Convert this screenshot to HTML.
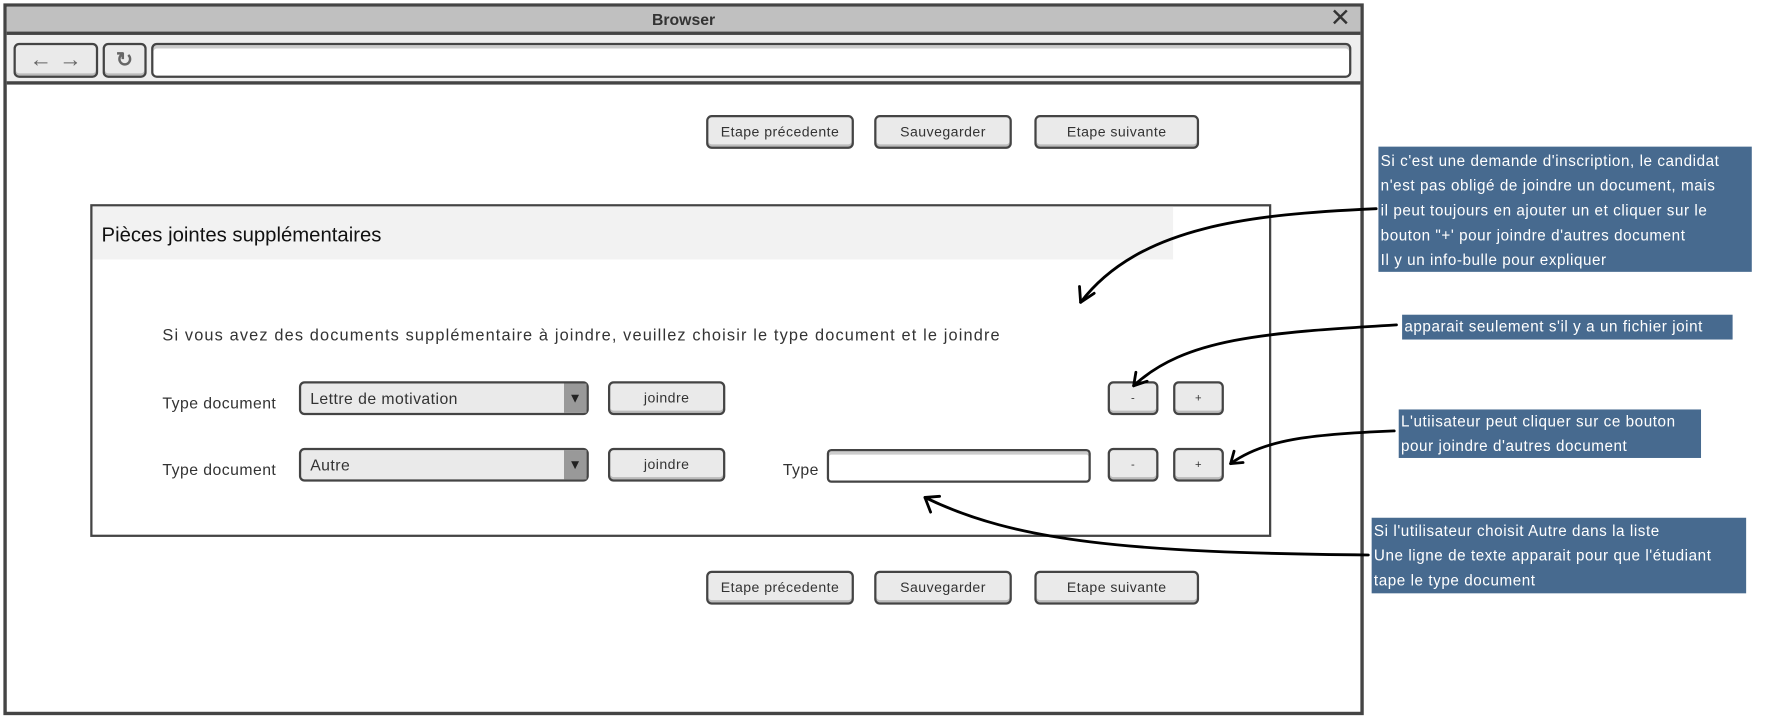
<!DOCTYPE html>
<html><head><meta charset="utf-8">
<style>
*{box-sizing:border-box;margin:0;padding:0}
html,body{width:1769px;height:720px;overflow:hidden;background:#fff}
#w{position:absolute;left:0;top:0;width:1566px;height:638px;transform:scale(1.128);transform-origin:0 0;font-family:"Liberation Sans",sans-serif;color:#333}
.a{position:absolute}
.btn{position:absolute;border:2px solid #444;border-radius:5px;background:#eaeaea;font-size:12.5px;display:flex;align-items:center;justify-content:center;box-shadow:inset 0 -2px 0 #bbb;letter-spacing:0.4px}
.note{position:absolute;background:#476a8f;color:#fff;font-size:13.5px;line-height:22px;padding-left:2px;white-space:nowrap;overflow:hidden;letter-spacing:0.5px}
.lbl{position:absolute;font-size:14px;color:#333;letter-spacing:0.4px}
.sel{position:absolute;border:2px solid #444;border-radius:5px;background:#eaeaea;font-size:14px;padding-left:8px;display:flex;align-items:center;letter-spacing:0.4px}
.sel .ar{position:absolute;right:0;top:0;bottom:0;width:20px;background:#999;color:#222;font-size:12px;display:flex;align-items:center;justify-content:center}
</style></head><body><div id="w">
<div class="a" style="left:3px;top:3px;width:1206px;height:631px;border:3px solid #444"></div>
<div class="a" style="left:6px;top:6px;width:1200px;height:22px;background:#c0c0c0"></div>
<div class="a" style="left:6px;top:9px;width:1200px;text-align:center;font-size:14px;font-weight:bold;color:#333">Browser</div>
<div class="a" style="left:1179px;top:3px;font-size:22px;color:#333">✕</div>
<div class="a" style="left:6px;top:28px;width:1200px;height:3px;background:#444"></div>
<div class="a" style="left:6px;top:31px;width:1200px;height:41px;background:#eee"></div>
<div class="a" style="left:6px;top:72px;width:1200px;height:3px;background:#444"></div>
<div class="btn" style="left:12px;top:38px;width:75px;height:31px;font-size:20px;color:#666">←&nbsp;→</div>
<div class="btn" style="left:91px;top:38px;width:39px;height:31px;font-size:18px;color:#666;font-weight:bold">↻</div>
<div class="a" style="left:134px;top:38px;width:1064px;height:31px;border:2px solid #444;border-radius:5px;background:#fff;box-shadow:inset 0 3px 0 #ccc"></div>

<div class="btn" style="left:626px;top:102px;width:131px;height:30px">Etape précedente</div>
<div class="btn" style="left:775px;top:102px;width:122px;height:30px">Sauvegarder</div>
<div class="btn" style="left:917px;top:102px;width:146px;height:30px">Etape suivante</div>

<div class="a" style="left:80px;top:181px;width:1047px;height:295px;border:2px solid #444"></div>
<div class="a" style="left:82px;top:183px;width:958px;height:47px;background:#f2f2f2"></div>
<div class="a" style="left:90px;top:198px;font-size:18px;color:#111">Pièces jointes supplémentaires</div>
<div class="lbl" style="left:144px;top:290px;font-size:14.5px;letter-spacing:1px">Si vous avez des documents supplémentaire à joindre, veuillez choisir le type document et le joindre</div>

<div class="lbl" style="left:144px;top:349px">Type document</div>
<div class="sel" style="left:265px;top:338px;width:257px;height:30px">Lettre de motivation<span class="ar">▼</span></div>
<div class="btn" style="left:539px;top:338px;width:104px;height:30px">joindre</div>
<div class="btn" style="left:982px;top:338px;width:45px;height:30px;font-size:10px">-</div>
<div class="btn" style="left:1040px;top:338px;width:45px;height:30px;font-size:10px">+</div>

<div class="lbl" style="left:144px;top:408px">Type document</div>
<div class="sel" style="left:265px;top:397px;width:257px;height:30px">Autre<span class="ar">▼</span></div>
<div class="btn" style="left:539px;top:397px;width:104px;height:30px">joindre</div>
<div class="lbl" style="left:694px;top:408px">Type</div>
<div class="a" style="left:733px;top:398px;width:234px;height:30px;border:2px solid #444;border-radius:4px;background:#fff;box-shadow:inset 0 3px 0 #ccc"></div>
<div class="btn" style="left:982px;top:397px;width:45px;height:30px;font-size:10px">-</div>
<div class="btn" style="left:1040px;top:397px;width:45px;height:30px;font-size:10px">+</div>

<div class="btn" style="left:626px;top:506px;width:131px;height:30px">Etape précedente</div>
<div class="btn" style="left:775px;top:506px;width:122px;height:30px">Sauvegarder</div>
<div class="btn" style="left:917px;top:506px;width:146px;height:30px">Etape suivante</div>

<div class="note" style="left:1222px;top:130px;width:331px;height:111px;padding-top:2px">Si c'est une demande d'inscription, le candidat<br>n'est pas obligé de joindre un document, mais<br>il peut toujours en ajouter un et cliquer sur le<br>bouton "+' pour joindre d'autres document<br>Il y un info-bulle pour expliquer</div>
<div class="note" style="left:1243px;top:279px;width:293px;height:22px">apparait seulement s'il y a un fichier joint</div>
<div class="note" style="left:1240px;top:363px;width:268px;height:43px">L'utiisateur peut cliquer sur ce bouton<br>pour joindre d'autres document</div>
<div class="note" style="left:1216px;top:459px;width:332px;height:67px;padding-top:1px">Si l'utilisateur choisit Autre dans la liste<br>Une ligne de texte apparait pour que l'étudiant<br>tape le type document</div>

<svg class="a" style="left:0;top:0" width="1566" height="638" fill="none" stroke="#000" stroke-width="2.5" stroke-linecap="round">
<path d="M1220 185 C1110 190 1010 200 958 268"/><path d="M958 268 L957 254 M958 268 L970 260"/>
<path d="M1238 288 C1120 295 1050 300 1005 342"/><path d="M1005 342 L1007 330 M1005 342 L1017 338"/>
<path d="M1236 382 C1160 385 1120 390 1091 411"/><path d="M1091 411 L1094 400 M1091 411 L1102 410"/>
<path d="M1213 492 C1000 490 900 480 820 441"/><path d="M820 441 L825 454 M820 441 L833 440"/>
</svg>
</div></body></html>
